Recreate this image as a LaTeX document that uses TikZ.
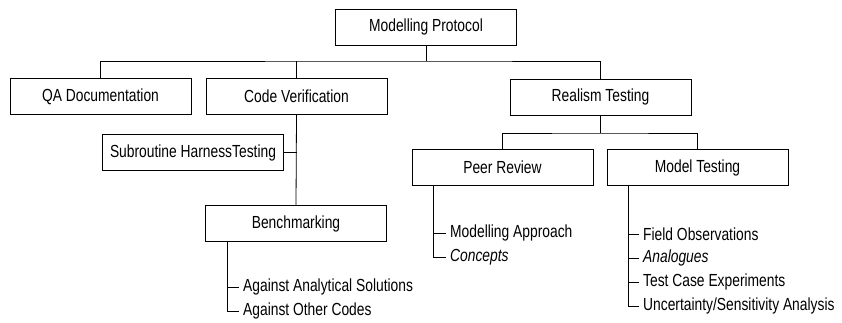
\documentclass[tikz,border=0pt]{standalone}
\usepackage{fontspec}
\setmainfont{Liberation Sans}[FakeStretch=0.79]
\usetikzlibrary{positioning}

\tikzset{
  box/.style={draw,line width=0.9pt,minimum width=181pt,minimum height=36pt,inner sep=0pt},
  item/.style={anchor=west,inner sep=4pt},
  link/.style={line width=0.8pt}
}

\begin{document}
\begin{tikzpicture}[x=1pt,y=-1pt,font=\fontsize{17.5}{20}\selectfont]
\useasboundingbox (0,0) rectangle (842,323);

% the boxes
\node[box] (mp)  at (426,27)    {Modelling Protocol};
\node[box] (qa)  at (100.5,96.5) {QA Documentation};
\node[box] (cv)  at (296.5,96.5) {Code Verification};
\node[box] (rt)  at (600.5,97)  {Realism Testing};
\node[box] (sht) at (193,152.5) {Subroutine HarnessTesting};
\node[box] (bm)  at (296,223.5) {Benchmarking};
\node[box] (pr)  at (502.5,167.5) {Peer Review};
\node[box] (mt)  at (697.5,167.5) {Model Testing};

% bars of the tree
\coordinate (top) at (426,61);
\coordinate (mid) at (600.5,133);

\draw[link] (mp.south) -- (top);
\draw[link] (qa.north) |- (top) -| (rt.north);
\draw[link] (cv.north) -- (cv.north |- top);
\draw[link] (cv.south) -- (bm.north);
\draw[link] (sht.east) -- (sht.east -| cv.south);
\draw[link] (rt.south) -- (mid);
\draw[link] (pr.north) |- (mid) -| (mt.north);

% lists under the boxes
\coordinate (bmstem) at (227,242);
\coordinate (prstem) at (433,185.5);
\coordinate (mtstem) at (628,185.5);

\node[item] (ba) at (239,287) {Against Analytical Solutions};
\node[item] (bo) at (239,311) {Against Other Codes};

\node[item] (pa) at (446,233) {Modelling Approach};
\node[item] (pc) at (446,257) {\itshape Concepts};

\node[item] (mf) at (639,234) {Field Observations};
\node[item] (ma) at (639,258) {\itshape Analogues};
\node[item] (me) at (639,282) {Test Case Experiments};
\node[item] (mu) at (639,306) {Uncertainty/Sensitivity Analysis};

\foreach \n in {ba,bo}
  \draw[link] (bmstem) |- (\n.west);
\foreach \n in {pa,pc}
  \draw[link] (prstem) |- (\n.west);
\foreach \n in {mf,ma,me,mu}
  \draw[link] (mtstem) |- (\n.west);

\end{tikzpicture}
\end{document}
